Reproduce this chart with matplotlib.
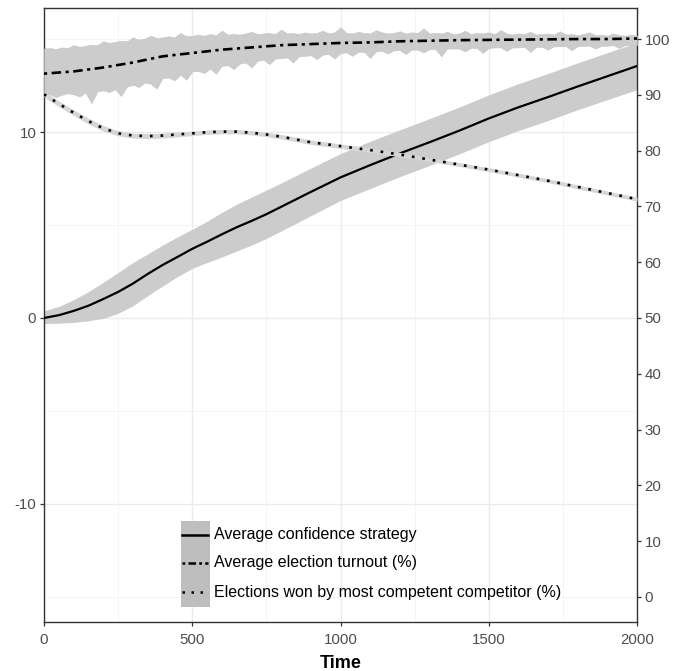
import matplotlib
matplotlib.use("Agg")
import matplotlib.pyplot as plt
from matplotlib.patches import Rectangle
from matplotlib.lines import Line2D

plt.rcParams['font.family'] = ['Liberation Sans', 'DejaVu Sans']
plt.rcParams['axes.unicode_minus'] = False

# ---------------- data ----------------
# Average confidence strategy (left axis)
conf_t = [0, 50, 100, 150, 200, 250, 300, 350, 400, 450, 500, 550, 600, 650, 700, 750, 800,
          900, 1000, 1100, 1200, 1300, 1400, 1500, 1600, 1700, 1800, 1900, 2000]
conf_mean = [0.0, 0.15, 0.38, 0.66, 1.02, 1.40, 1.85, 2.37, 2.85, 3.28, 3.72, 4.10, 4.50, 4.88,
             5.22, 5.58, 5.98, 6.78, 7.56, 8.22, 8.85, 9.45, 10.07, 10.73, 11.33, 11.88, 12.45,
             13.00, 13.55]
conf_upper = [0.38, 0.62, 0.98, 1.42, 1.92, 2.45, 2.98, 3.45, 3.92, 4.36, 4.77, 5.20, 5.68, 6.12,
              6.50, 6.88, 7.26, 8.06, 8.84, 9.50, 10.12, 10.72, 11.34, 12.00, 12.60, 13.15, 13.72,
              14.27, 14.80]
conf_lower = [-0.30, -0.28, -0.24, -0.15, -0.02, 0.25, 0.66, 1.20, 1.72, 2.22, 2.67, 2.98, 3.28,
              3.60, 3.92, 4.28, 4.68, 5.50, 6.32, 6.96, 7.60, 8.20, 8.82, 9.48, 10.08, 10.62,
              11.20, 11.74, 12.28]

# Average election turnout (%) (right axis)
turn_t = [0, 100, 200, 300, 400, 500, 600, 700, 800, 900, 1000, 1100, 1200, 1300, 1400, 1500,
          1600, 1700, 1800, 1900, 2000]
turn_mean = [93.8, 94.2, 94.9, 95.8, 96.9, 97.5, 98.1, 98.5, 98.9, 99.1, 99.3, 99.4, 99.6, 99.7,
             99.8, 99.85, 99.9, 99.95, 100.0, 100.0, 100.1]
turn_band_t = list(range(0, 2001, 20))
turn_upper = [98.3, 98.4, 98.2, 98.5, 98.4, 98.9, 98.6, 98.8, 99.0, 98.9,
              99.6, 99.3, 99.5, 99.7, 99.6, 100.3, 99.9, 100.1, 100.6, 100.2,
              100.3, 100.5, 100.3, 101.1, 100.5, 100.6, 100.8, 100.6, 100.9, 100.7,
              101.5, 100.8, 100.9, 100.8, 101.0, 101.3, 100.9, 101.0, 101.1, 100.9,
              101.7, 101.0, 101.1, 100.9, 101.2, 101.0, 101.1, 101.5, 101.0, 101.2,
              102.1, 101.1, 101.0, 101.3, 101.1, 101.0, 101.6, 101.2, 101.0, 101.1,
              101.4, 101.0, 101.2, 101.1, 101.9, 101.0, 101.1, 101.0, 101.3, 100.9,
              101.0, 101.5, 100.9, 101.1, 101.0, 101.2, 100.9, 101.6, 101.0, 100.8,
              101.0, 100.9, 101.3, 100.8, 100.9, 101.0, 100.8, 101.4, 100.8, 100.9,
              100.7, 100.9, 101.2, 100.7, 100.8, 100.6, 101.0, 100.7, 100.6, 100.8,
              100.6]
turn_lower = [89.9, 90.1, 89.6, 90.0, 90.3, 90.1, 89.7, 90.4, 88.5, 90.6,
              90.8, 90.5, 91.0, 89.8, 91.5, 91.8, 91.4, 92.2, 92.0, 91.1,
              93.0, 93.1, 92.6, 93.6, 92.7, 94.2, 94.3, 93.9, 94.7, 93.8,
              95.2, 95.3, 94.6, 95.6, 95.8, 94.9, 96.1, 96.3, 95.5, 96.5,
              96.6, 96.7, 95.8, 96.9, 97.0, 97.1, 96.4, 97.2, 97.3, 96.5,
              97.5, 97.6, 97.0, 97.7, 97.7, 96.6, 97.8, 97.9, 97.4, 98.0,
              98.0, 97.3, 98.1, 98.1, 97.6, 98.2, 98.2, 96.9, 98.3, 98.3,
              98.3, 97.8, 98.4, 98.4, 97.5, 98.4, 98.5, 98.5, 97.9, 98.5,
              98.5, 98.6, 97.7, 98.6, 98.6, 98.1, 98.7, 98.7, 98.7, 98.0,
              98.7, 98.8, 98.8, 98.3, 98.8, 98.8, 98.9, 98.4, 98.9, 98.9,
              98.9]

# Elections won by most competent competitor (%) (right axis)
won_t = [0, 50, 100, 150, 200, 250, 300, 350, 400, 450, 500, 550, 600, 650, 700, 750, 800,
         900, 1000, 1100, 1200, 1300, 1400, 1500, 1600, 1700, 1800, 1900, 2000]
won_mean = [90.1, 88.4, 86.8, 85.3, 84.0, 83.1, 82.7, 82.6, 82.7, 82.9, 83.1, 83.3, 83.4, 83.4,
            83.2, 82.9, 82.5, 81.5, 80.8, 80.1, 79.3, 78.4, 77.5, 76.6, 75.6, 74.6, 73.5,
            72.4, 71.3]
won_halfwidth = [0.5, 0.5, 0.5, 0.5, 0.5, 0.45, 0.45, 0.45, 0.45, 0.45, 0.4, 0.4, 0.4, 0.4,
                 0.4, 0.4, 0.4, 0.4, 0.4, 0.4, 0.4, 0.35, 0.35, 0.35, 0.35, 0.35, 0.35,
                 0.35, 0.35]

legend_labels = ["Average confidence strategy",
                 "Average election turnout (%)",
                 "Elections won by most competent competitor (%)"]

x_ticks = [0, 500, 1000, 1500, 2000]
left_ticks = [-10, 0, 10]
right_ticks = list(range(0, 101, 10))

# ---------------- styling ----------------
W, H = 683, 671
fig = plt.figure(figsize=(W / 100, H / 100), dpi=100)
ax_l, ax_r, ax_top, ax_bot = 44, 637, 8, 622
ax = fig.add_axes([ax_l / W, 1 - ax_bot / H, (ax_r - ax_l) / W, (ax_bot - ax_top) / H])

ylim_left = (-16.35, 16.67)
ax.set_xlim(0, 2000)
ax.set_ylim(*ylim_left)

ribbon_col = '#CCCCCC'
spine_col = '#333333'
tick_col = '#4D4D4D'
grid_col = '#EBEBEB'

ax.set_xticks(x_ticks)
ax.set_xticks([250, 750, 1250, 1750], minor=True)
ax.set_yticks(left_ticks)
ax.set_yticks([-15, -5, 5, 15], minor=True)
ax.grid(which='major', color=grid_col, linewidth=1.0, zorder=0)
ax.grid(which='minor', color='#F2F2F2', linewidth=0.6, zorder=0)
ax.set_axisbelow(True)
for s in ax.spines.values():
    s.set_color(spine_col)
    s.set_linewidth(1.0)
ax.tick_params(which='major', length=3, width=0.9, color=spine_col, labelcolor=tick_col,
               labelsize=10.8)
ax.tick_params(axis='x', pad=5)
ax.tick_params(axis='y', pad=2.5)
ax.tick_params(which='minor', length=0)
ax.set_xlabel("Time", fontsize=13, fontweight='bold', labelpad=6)

# confidence ribbon + line
ax.fill_between(conf_t, conf_lower, conf_upper, color=ribbon_col, linewidth=0, zorder=1)
ax.plot(conf_t, conf_mean, color='black', linewidth=1.6, zorder=3)

# right axis (percent)
ax2 = ax.twinx()
ax2.set_ylim(50 + ylim_left[0] * 10 / 3, 50 + ylim_left[1] * 10 / 3)
ax2.set_yticks(right_ticks)
ax2.tick_params(which='major', length=3, width=0.9, color=spine_col, labelcolor=tick_col,
                labelsize=10.8, pad=2.5)
for s in ax2.spines.values():
    s.set_visible(False)

ax2.fill_between(turn_band_t, turn_lower, turn_upper, color=ribbon_col, linewidth=0.4,
                 edgecolor='#C4C4C4', zorder=1)
won_lo = [m - h for m, h in zip(won_mean, won_halfwidth)]
won_hi = [m + h for m, h in zip(won_mean, won_halfwidth)]
ax2.fill_between(won_t, won_lo, won_hi, color='#D6D6D6', linewidth=0, zorder=1)

dotdash = (0, (1.2, 1.7, 3.6, 1.7))
dotted = (0, (1.0, 3.0))
ax2.plot(turn_t, turn_mean, color='black', linewidth=1.9, linestyle=dotdash,
         dash_capstyle='butt', zorder=3)
ax2.plot(won_t, won_mean, color='black', linewidth=1.9, linestyle=dotted,
         dash_capstyle='butt', zorder=3)

# ---------------- legend (manual, ggplot-like) ----------------
def fx(px):
    return px / W

def fy(py):
    return 1 - py / H

fig.patches.append(Rectangle((fx(181), fy(607)), fx(210) - fx(181), fy(521) - fy(607),
                             transform=fig.transFigure, facecolor='#BEBEBE',
                             edgecolor='none', zorder=5))
row_y = [535, 563, 592]
styles = ['-', (0, (1.1, 1.3, 3.0, 1.3)), (0, (1.0, 2.6))]
for yy, st, lab in zip(row_y, styles, legend_labels):
    ln = Line2D([fx(182), fx(208)], [fy(yy), fy(yy)], transform=fig.transFigure,
                color='black', linewidth=1.8, linestyle=st, dash_capstyle='butt', zorder=6)
    fig.lines.append(ln)
    fig.text(fx(214), fy(yy), lab, fontsize=11.5, color='black', va='center', ha='left',
             zorder=6)

fig.savefig("out.png", dpi=100)
